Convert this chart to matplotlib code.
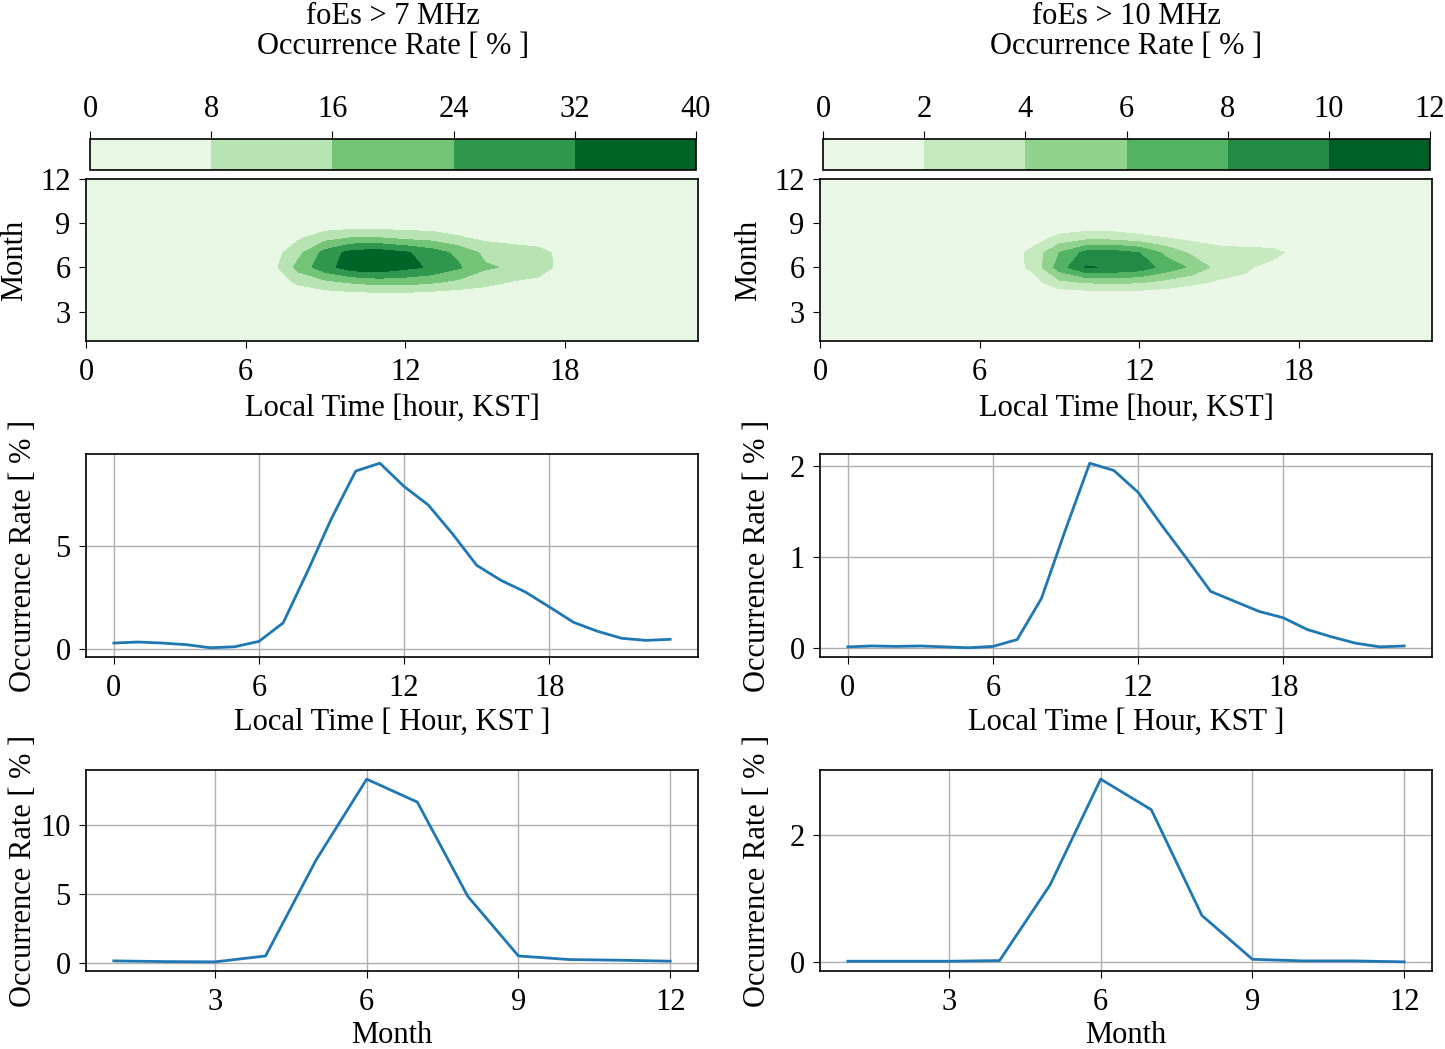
import numpy as np
import matplotlib
matplotlib.use('Agg')
import matplotlib.pyplot as plt

plt.rcParams['font.family'] = ['Liberation Serif', 'DejaVu Serif']
plt.rcParams['font.size'] = 22
plt.rcParams['axes.linewidth'] = 1.2
plt.rcParams['xtick.major.pad'] = 7
plt.rcParams['ytick.major.pad'] = 6
plt.rcParams['xtick.major.size'] = 5
plt.rcParams['ytick.major.size'] = 5

# Month x Local time grids
hours = np.arange(24)
months = np.arange(1, 13)

# foEs > 7 MHz, occurrence rate [%], rows = month 1..12, cols = hour 0..23
rate7 = np.array([
    [0.2, 0.2, 0.2, 0.2, 0.1, 0.1, 0.2, 0.3, 0.4, 0.5, 0.5, 0.5, 0.5, 0.5, 0.4, 0.4, 0.3, 0.3, 0.2, 0.2, 0.2, 0.2, 0.2, 0.2],
    [0.1, 0.1, 0.1, 0.1, 0.1, 0.1, 0.1, 0.2, 0.3, 0.3, 0.3, 0.3, 0.3, 0.3, 0.3, 0.2, 0.2, 0.2, 0.1, 0.1, 0.1, 0.1, 0.1, 0.1],
    [0.1, 0.1, 0.1, 0.1, 0.0, 0.0, 0.1, 0.1, 0.2, 0.2, 0.2, 0.2, 0.2, 0.2, 0.2, 0.1, 0.1, 0.1, 0.1, 0.1, 0.1, 0.1, 0.1, 0.1],
    [0.3, 0.3, 0.3, 0.3, 0.2, 0.2, 0.3, 0.5, 1.5, 2.5, 3.0, 3.2, 3.2, 2.5, 2.0, 1.5, 1.0, 0.8, 0.5, 0.3, 0.2, 0.2, 0.2, 0.2],
    [0.3, 0.3, 0.3, 0.3, 0.2, 0.2, 1.0, 3.0, 9.6, 14.0, 17.0, 19.0, 19.0, 17.0, 14.0, 11.0, 7.5, 6.1, 3.0, 1.5, 0.8, 0.4, 0.3, 0.3],
    [0.5, 0.5, 0.5, 0.5, 0.3, 0.3, 1.5, 5.0, 19.0, 29.0, 36.5, 38.0, 34.0, 31.0, 25.0, 17.0, 15.0, 11.5, 5.0, 2.5, 1.2, 0.6, 0.5, 0.5],
    [0.4, 0.4, 0.4, 0.4, 0.2, 0.2, 1.0, 4.0, 14.0, 27.0, 35.0, 36.0, 33.0, 28.0, 22.0, 14.0, 13.0, 11.0, 5.0, 2.0, 1.0, 0.5, 0.4, 0.4],
    [0.3, 0.3, 0.3, 0.3, 0.2, 0.2, 0.5, 2.0, 7.0, 13.0, 16.2, 16.2, 14.0, 12.7, 9.0, 6.0, 4.0, 3.0, 1.5, 0.8, 0.4, 0.3, 0.3, 0.3],
    [0.2, 0.2, 0.2, 0.2, 0.1, 0.1, 0.2, 0.5, 1.0, 2.0, 2.0, 2.0, 2.0, 2.0, 2.0, 1.5, 1.0, 0.8, 0.4, 0.3, 0.2, 0.2, 0.2, 0.2],
    [0.2, 0.2, 0.2, 0.2, 0.1, 0.1, 0.1, 0.2, 0.3, 0.4, 0.4, 0.4, 0.4, 0.3, 0.3, 0.3, 0.2, 0.2, 0.2, 0.2, 0.2, 0.2, 0.2, 0.2],
    [0.2, 0.2, 0.2, 0.2, 0.1, 0.1, 0.1, 0.2, 0.2, 0.3, 0.3, 0.3, 0.3, 0.3, 0.2, 0.2, 0.2, 0.2, 0.2, 0.2, 0.2, 0.2, 0.2, 0.2],
    [0.1, 0.1, 0.1, 0.1, 0.1, 0.1, 0.1, 0.1, 0.1, 0.2, 0.2, 0.2, 0.2, 0.2, 0.1, 0.1, 0.1, 0.1, 0.1, 0.1, 0.1, 0.1, 0.1, 0.1],
])

# foEs > 10 MHz
rate10 = np.array([
    [0.0, 0.0, 0.0, 0.0, 0.0, 0.0, 0.0, 0.0, 0.0, 0.0, 0.0, 0.0, 0.0, 0.0, 0.0, 0.0, 0.0, 0.0, 0.0, 0.0, 0.0, 0.0, 0.0, 0.0],
    [0.0, 0.0, 0.0, 0.0, 0.0, 0.0, 0.0, 0.0, 0.0, 0.0, 0.0, 0.0, 0.0, 0.0, 0.0, 0.0, 0.0, 0.0, 0.0, 0.0, 0.0, 0.0, 0.0, 0.0],
    [0.0, 0.0, 0.0, 0.0, 0.0, 0.0, 0.0, 0.0, 0.0, 0.0, 0.0, 0.0, 0.0, 0.0, 0.0, 0.0, 0.0, 0.0, 0.0, 0.0, 0.0, 0.0, 0.0, 0.0],
    [0.0, 0.0, 0.0, 0.0, 0.0, 0.0, 0.0, 0.05, 0.1, 0.15, 0.2, 0.2, 0.2, 0.2, 0.2, 0.15, 0.1, 0.1, 0.05, 0.0, 0.0, 0.0, 0.0, 0.0],
    [0.0, 0.05, 0.0, 0.05, 0.0, 0.0, 0.05, 0.3, 1.2, 3.5, 4.2, 4.4, 4.2, 3.4, 2.45, 1.75, 1.55, 0.8, 0.4, 0.2, 0.1, 0.05, 0.0, 0.05],
    [0.05, 0.1, 0.05, 0.1, 0.05, 0.0, 0.2, 1.0, 2.4, 7.0, 10.15, 9.8, 9.2, 7.2, 5.6, 3.14, 2.3, 1.2, 0.6, 0.3, 0.2, 0.1, 0.05, 0.1],
    [0.05, 0.1, 0.05, 0.05, 0.05, 0.0, 0.1, 0.8, 2.6, 6.0, 8.6, 8.8, 8.0, 5.5, 3.5, 3.0, 2.9, 2.8, 1.0, 0.5, 0.3, 0.1, 0.05, 0.05],
    [0.0, 0.0, 0.0, 0.0, 0.0, 0.0, 0.05, 0.2, 1.0, 2.6, 3.3, 3.2, 2.6, 2.0, 1.5, 0.8, 0.3, 0.1, 0.05, 0.0, 0.0, 0.0, 0.0, 0.0],
    [0.0, 0.0, 0.0, 0.0, 0.0, 0.0, 0.0, 0.05, 0.1, 0.3, 0.3, 0.3, 0.2, 0.2, 0.1, 0.1, 0.05, 0.0, 0.0, 0.0, 0.0, 0.0, 0.0, 0.0],
    [0.0, 0.0, 0.0, 0.0, 0.0, 0.0, 0.0, 0.0, 0.05, 0.05, 0.05, 0.05, 0.05, 0.05, 0.0, 0.0, 0.0, 0.0, 0.0, 0.0, 0.0, 0.0, 0.0, 0.0],
    [0.0, 0.0, 0.0, 0.0, 0.0, 0.0, 0.0, 0.0, 0.0, 0.05, 0.05, 0.05, 0.0, 0.0, 0.0, 0.0, 0.0, 0.0, 0.0, 0.0, 0.0, 0.0, 0.0, 0.0],
    [0.0, 0.0, 0.0, 0.0, 0.0, 0.0, 0.0, 0.0, 0.0, 0.0, 0.0, 0.0, 0.0, 0.0, 0.0, 0.0, 0.0, 0.0, 0.0, 0.0, 0.0, 0.0, 0.0, 0.0],
])

# diurnal occurrence rate [%]
lt_rate7 = [0.29, 0.34, 0.29, 0.21, 0.06, 0.11, 0.37, 1.27, 3.75, 6.35, 8.65, 9.03,
            7.9, 7.0, 5.6, 4.07, 3.34, 2.78, 2.05, 1.30, 0.86, 0.52, 0.42, 0.47]
lt_rate10 = [0.01, 0.02, 0.015, 0.02, 0.01, 0.0, 0.015, 0.09, 0.54, 1.30, 2.03, 1.95,
             1.71, 1.34, 0.985, 0.62, 0.51, 0.40, 0.33, 0.20, 0.12, 0.05, 0.01, 0.02]

# seasonal occurrence rate [%]
mon_rate7 = [0.12, 0.07, 0.05, 0.48, 7.48, 13.37, 11.7, 4.82, 0.48, 0.22, 0.17, 0.1]
mon_rate10 = [0.01, 0.01, 0.01, 0.02, 1.21, 2.87, 2.39, 0.73, 0.04, 0.015, 0.015, 0.0]

titles = ['foEs > 7 MHz', 'foEs > 10 MHz']
levels_list = [[0, 8, 16, 24, 32, 40], [0, 2, 4, 6, 8, 10, 12]]
grids = [rate7, rate10]
lt_data = [lt_rate7, lt_rate10]
mon_data = [mon_rate7, mon_rate10]
lt_yticks = [[0, 5], [0, 1, 2]]
mon_yticks = [[0, 5, 10], [0, 2]]

W, H = 1445, 1049
fig = plt.figure(figsize=(W / 100, H / 100), dpi=100)


def box(x0, y0, x1, y1):
    # pixel box (top-left origin) -> figure fraction
    return [x0 / W, 1 - y1 / H, (x1 - x0) / W, (y1 - y0) / H]


col_x = [(86, 698), (820, 1432)]
cbar_x = [(90, 696), (823, 1430)]
blue = '#1f77b4'

for i in range(2):
    x0, x1 = col_x[i]
    xc = (cbar_x[i][0] + cbar_x[i][1]) / 2 / W
    fig.text(xc, 1 - 16 / H, titles[i], ha='center', va='center')
    fig.text(xc, 1 - 47 / H, 'Occurrence Rate [ % ]', ha='center', va='center')

    # contour map
    ax = fig.add_axes(box(x0, 179, x1, 341))
    cs = ax.contourf(hours, months, grids[i], levels=levels_list[i], cmap='Greens')
    ax.set_xticks([0, 6, 12, 18])
    ax.set_yticks([3, 6, 9, 12])
    ax.set_xlabel('Local Time [hour, KST]', labelpad=5)
    ax.set_ylabel('Month')
    ax.yaxis.set_label_coords(-0.093, 0.5)

    cax = fig.add_axes(box(cbar_x[i][0], 139, cbar_x[i][1], 170))
    cb = fig.colorbar(cs, cax=cax, orientation='horizontal', ticks=levels_list[i])
    cax.xaxis.set_ticks_position('top')
    cax.xaxis.set_label_position('top')
    cax.tick_params(axis='x', pad=5, length=6)
    cb.outline.set_linewidth(1.2)

    # diurnal variation
    ax2 = fig.add_axes(box(x0, 454, x1, 657))
    ax2.plot(hours, lt_data[i], color=blue, lw=2)
    ax2.set_xticks([0, 6, 12, 18])
    ax2.set_yticks(lt_yticks[i])
    ax2.grid(True, color='#b0b0b0', lw=1)
    ax2.set_xlabel('Local Time [ Hour, KST ]', labelpad=4)
    ax2.set_ylabel('Occurrence Rate [ % ]')
    ax2.yaxis.set_label_coords(-0.078, 0.5)

    # seasonal variation
    ax3 = fig.add_axes(box(x0, 770, x1, 971))
    ax3.plot(months, mon_data[i], color=blue, lw=2)
    ax3.set_xticks([3, 6, 9, 12])
    ax3.set_yticks(mon_yticks[i])
    ax3.grid(True, color='#b0b0b0', lw=1)
    ax3.set_xlabel('Month', labelpad=3)
    ax3.set_ylabel('Occurrence Rate [ % ]')
    ax3.yaxis.set_label_coords(-0.078, 0.5)

fig.savefig('out.png', dpi=100)
